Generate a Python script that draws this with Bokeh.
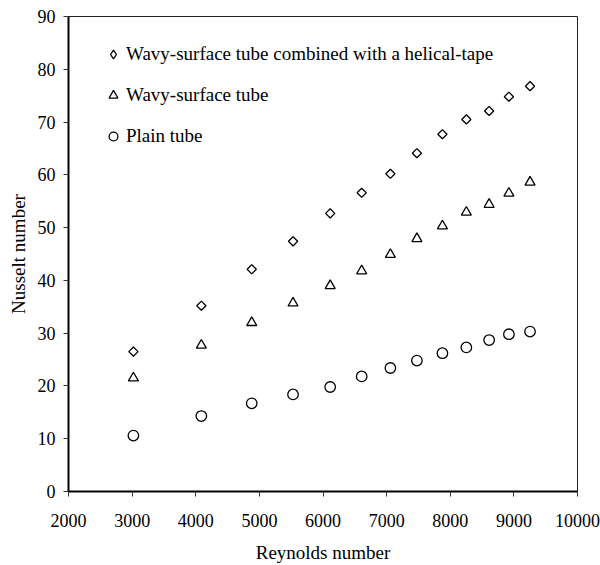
import math
from bokeh.plotting import figure
from bokeh.models import Range1d, FixedTicker, Legend, LegendItem, ColumnDataSource
from bokeh.embed import file_html
from bokeh.resources import INLINE

reynolds = [3020, 4088, 4880, 5529, 6113, 6608, 7059, 7476, 7877, 8253, 8611, 8922, 9254]
nu_wavy_tape = [26.5, 35.2, 42.1, 47.4, 52.7, 56.6, 60.2, 64.1, 67.7, 70.5, 72.1, 74.8, 76.8]
nu_wavy = [21.5, 27.7, 32.0, 35.7, 39.0, 41.8, 44.9, 47.9, 50.3, 52.9, 54.4, 56.5, 58.6]
nu_plain = [10.6, 14.3, 16.7, 18.4, 19.8, 21.8, 23.4, 24.8, 26.2, 27.3, 28.7, 29.8, 30.3]
x_ticks = [2000, 3000, 4000, 5000, 6000, 7000, 8000, 9000, 10000]
y_ticks = [0, 10, 20, 30, 40, 50, 60, 70, 80, 90]
labels = ["Wavy-surface tube combined with a helical-tape", "Wavy-surface tube", "Plain tube"]

FONT = "Liberation Serif"

p = figure(width=600, height=565, output_backend="svg", toolbar_location=None,
           x_range=Range1d(2000, 10000), y_range=Range1d(0, 90),
           min_border_left=68, min_border_right=23, min_border_top=16, min_border_bottom=73)
p.xgrid.visible = False
p.ygrid.visible = False
p.background_fill_color = "white"
p.border_fill_color = "white"
p.outline_line_color = "#222222"
p.outline_line_width = 1

for ax in (p.xaxis[0], p.yaxis[0]):
    ax.axis_line_width = 2
    ax.axis_line_color = "black"
    ax.major_tick_line_color = "#333333"
    ax.major_tick_in = 0
    ax.major_tick_out = 5
    ax.minor_tick_line_color = None
    ax.major_label_text_font = FONT
    ax.major_label_text_font_size = "18px"
    ax.major_label_text_color = "black"
    ax.axis_label_text_font = FONT
    ax.axis_label_text_font_size = "19px"
    ax.axis_label_text_font_style = "normal"
    ax.axis_label_text_color = "black"

p.xaxis[0].ticker = FixedTicker(ticks=x_ticks)
p.yaxis[0].ticker = FixedTicker(ticks=y_ticks)
p.xaxis[0].axis_label = "Reynolds number"
p.yaxis[0].axis_label = "Nusselt number"
p.xaxis[0].major_label_standoff = 17
p.yaxis[0].major_label_standoff = 8
p.xaxis[0].axis_label_standoff = 12
p.yaxis[0].axis_label_standoff = 6

src_tape = ColumnDataSource(data=dict(x=reynolds, y=nu_wavy_tape))
r1 = p.scatter("x", "y", source=src_tape, marker="square", angle=math.pi / 4, size=6.5,
               fill_color=None, line_color="black", line_width=1.3)
r2 = p.scatter(reynolds, nu_wavy, marker="triangle", size=10,
               fill_color=None, line_color="black", line_width=1.3)
r3 = p.scatter(reynolds, nu_plain, marker="circle", size=10.5,
               fill_color=None, line_color="black", line_width=1.3)
# legend symbol for the diamonds (legend symbols ignore the marker angle);
# hidden in the plot, used only by the legend
r1_key = p.scatter("x", "y", source=src_tape, marker="diamond",
                   fill_color=None, line_color="black", line_width=1.3)
r1_key.visible = False

legend = Legend(items=[LegendItem(label=labels[0], renderers=[r1_key]),
                       LegendItem(label=labels[1], renderers=[r2]),
                       LegendItem(label=labels[2], renderers=[r3])],
                location=(34, 344), orientation="vertical",
                glyph_width=22, glyph_height=22, label_height=22, spacing=19,
                label_standoff=2, padding=0, margin=0,
                background_fill_alpha=0, border_line_color=None,
                label_text_font=FONT, label_text_font_size="19px", label_text_color="black")
p.add_layout(legend, "center")

open("out.html", "w").write(file_html(p, INLINE))
